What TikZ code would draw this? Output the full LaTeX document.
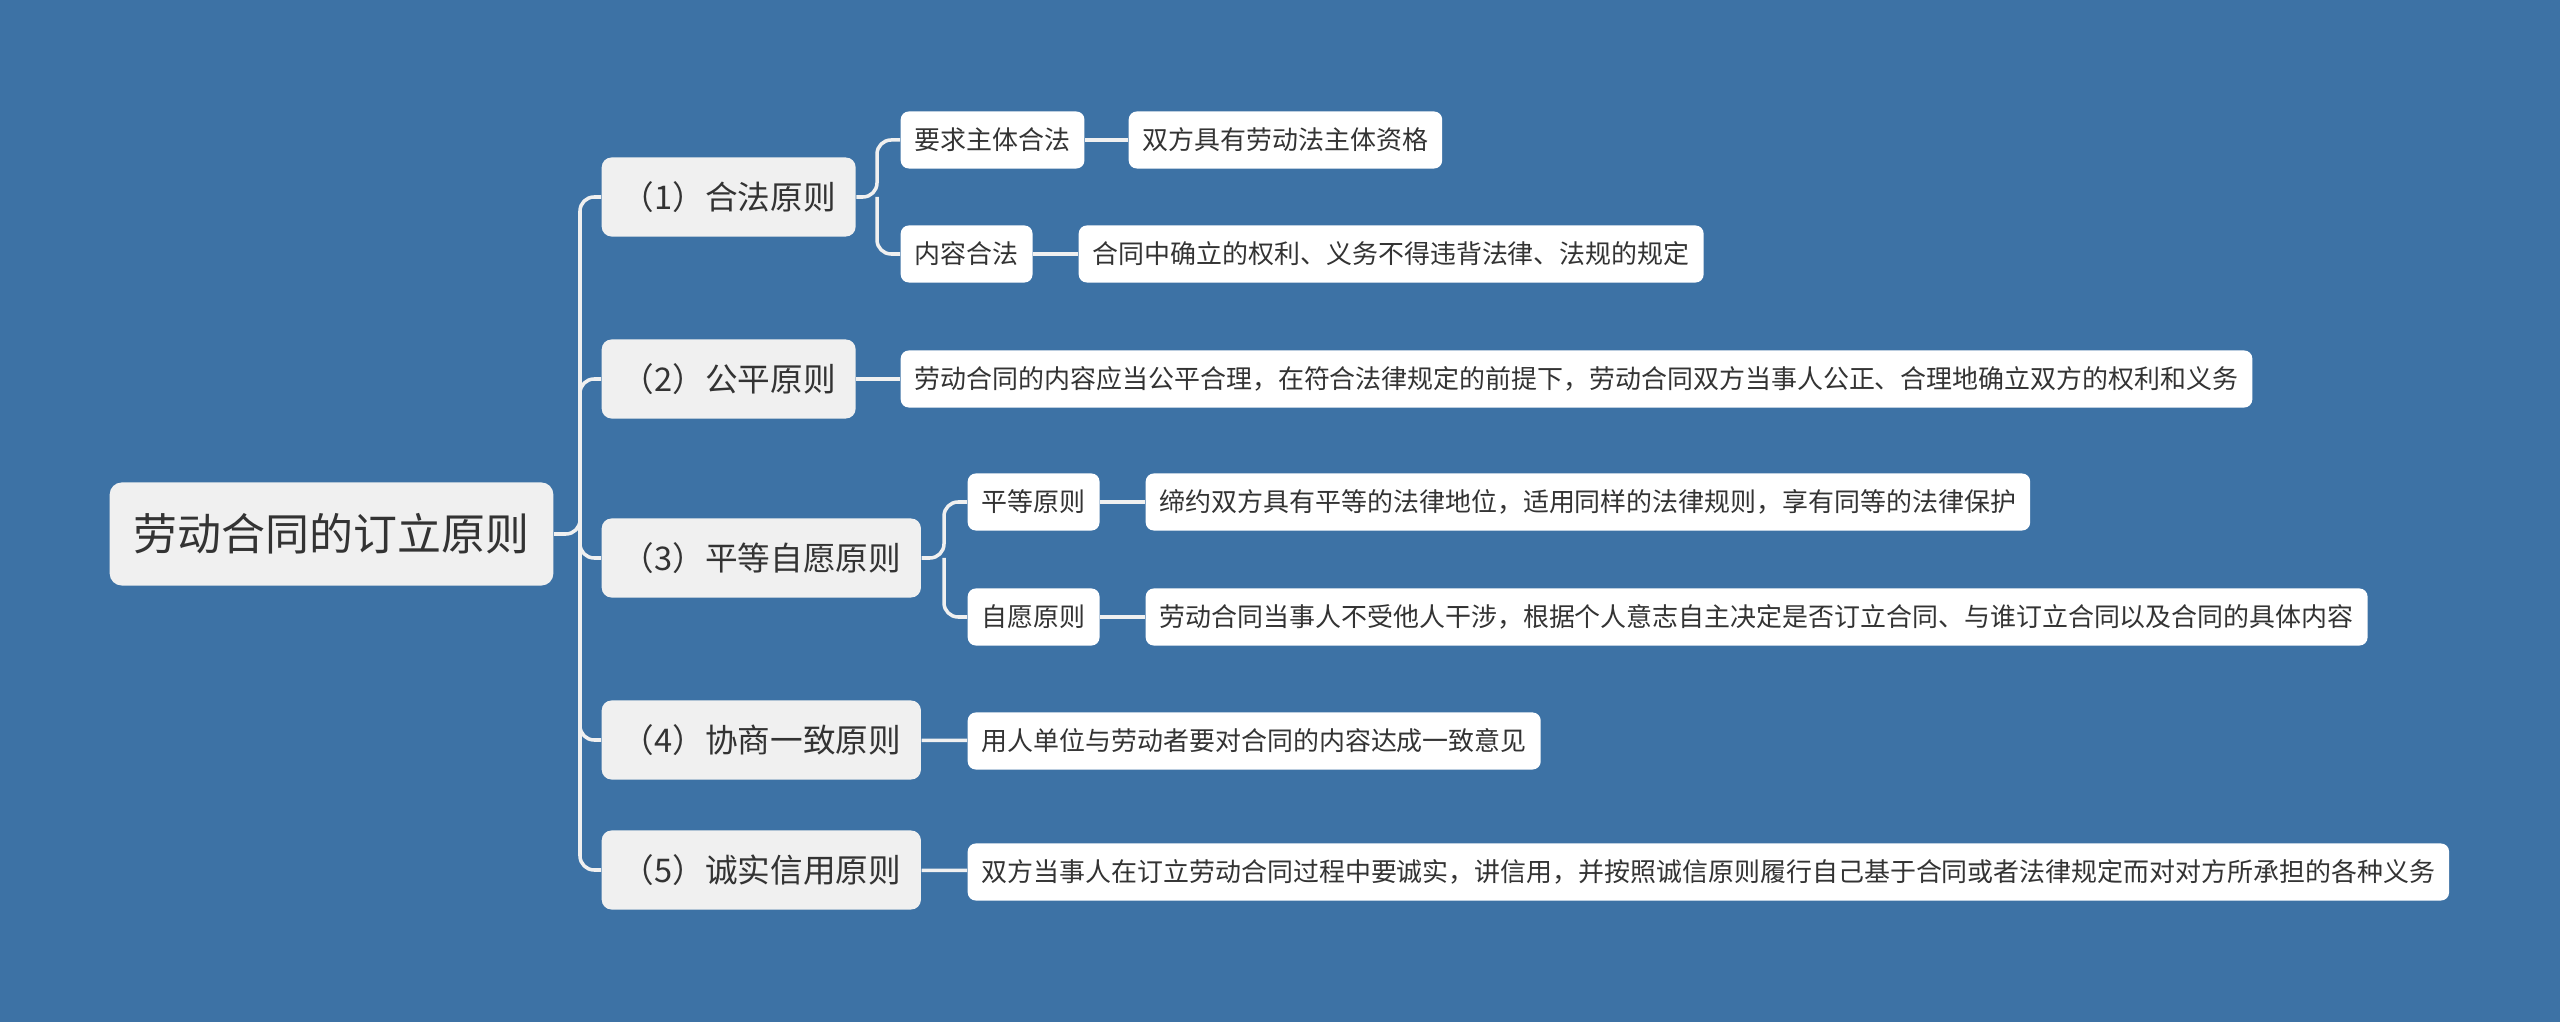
\documentclass[tikz,border=0pt]{standalone}
\usepackage{fontspec}
\setmainfont{Noto Sans CJK SC}
\usepackage{tikz}
\definecolor{bgblue}{HTML}{3D72A5}
\definecolor{boxgray}{HTML}{F0F0F0}
\definecolor{ink}{HTML}{333333}
\tikzset{
    rootbox/.style={fill=boxgray, text=ink, rounded corners=3.4pt, anchor=west,
    	minimum height=1.03cm, inner xsep=0.24cm, font=\fontsize{12.5}{15}\selectfont},
    mainbox/.style={fill=boxgray, text=ink, rounded corners=2.8pt, anchor=west,
    	minimum height=0.79cm, inner xsep=0.2cm, font=\fontsize{9.28}{11}\selectfont},
    subbox/.style={fill=white, text=ink, rounded corners=2.3pt, anchor=west,
    	minimum height=0.57cm, inner xsep=0.14cm, font=\fontsize{7.38}{8.8}\selectfont}
}
\tikzset{
    link/.style={draw=boxgray, line width=1pt, rounded corners=4pt}
}

\begin{document}
\begin{tikzpicture}[x=0.01cm,y=-0.01cm]
	\fill[bgblue] (0,0) rectangle (2560,1022);
	\useasboundingbox (0,0) rectangle (2560,1022);

	\node (root) [rootbox] at (109,534) {劳动合同的订立原则};
	\node (p1) [mainbox] at (601,197) {（1）合法原则};
	\node (p2) [mainbox] at (601,379) {（2）公平原则};
	\node (p3) [mainbox] at (601,558) {（3）平等自愿原则};
	\node (p4) [mainbox] at (601,740) {（4）协商一致原则};
	\node (p5) [mainbox] at (601,870) {（5）诚实信用原则};

	\node (a1) [subbox] at (900,140) {要求主体合法};
	\node (a2) [subbox] at (900,254) {内容合法};
	\node (b1) [subbox] at (1128,140) {双方具有劳动法主体资格};
	\node (b2) [subbox] at (1078,254) {合同中确立的权利、义务不得违背法律、法规的规定};
	\node (c1) [subbox] at (900,379) {劳动合同的内容应当公平合理，在符合法律规定的前提下，劳动合同双方当事人公正、合理地确立双方的权利和义务};
	\node (d1) [subbox] at (967,502) {平等原则};
	\node (d2) [subbox] at (967,617) {自愿原则};
	\node (e1) [subbox] at (1145,502) {缔约双方具有平等的法律地位，适用同样的法律规则，享有同等的法律保护};
	\node (e2) [subbox] at (1145,617) {劳动合同当事人不受他人干涉，根据个人意志自主决定是否订立合同、与谁订立合同以及合同的具体内容};
	\node (f1) [subbox] at (967,741) {用人单位与劳动者要对合同的内容达成一致意见};
	\node (g1) [subbox] at (967,872) {双方当事人在订立劳动合同过程中要诚实，讲信用，并按照诚信原则履行自己基于合同或者法律规定而对对方所承担的各种义务};

	\coordinate (t0) at (580,534);
	\coordinate (t1) at (877,197);
	\coordinate (t3) at (944,558);

	\draw[link] (root.east) -- (t0) |- (p1.west); \draw[link] (t0) |- (p2.west);
	\draw[link] (t0) |- (p3.west); \draw[link] (t0) |- (p4.west);
	\draw[link] (t0) |- (p5.west);
	\draw[link] (p1.east) -- (t1) |- (a1.west); \draw[link] (t1) |- (a2.west);
	\draw[link] (a1) -- (b1); \draw[link] (a2) -- (b2);
	\draw[link] (p2) -- (c1);
	\draw[link] (p3.east) -- (t3) |- (d1.west); \draw[link] (t3) |- (d2.west);
	\draw[link] (d1) -- (e1); \draw[link] (d2) -- (e2);
	\draw[link] (p4) -- (f1);
	\draw[link] (p5) -- (g1);
\end{tikzpicture}
\end{document}
